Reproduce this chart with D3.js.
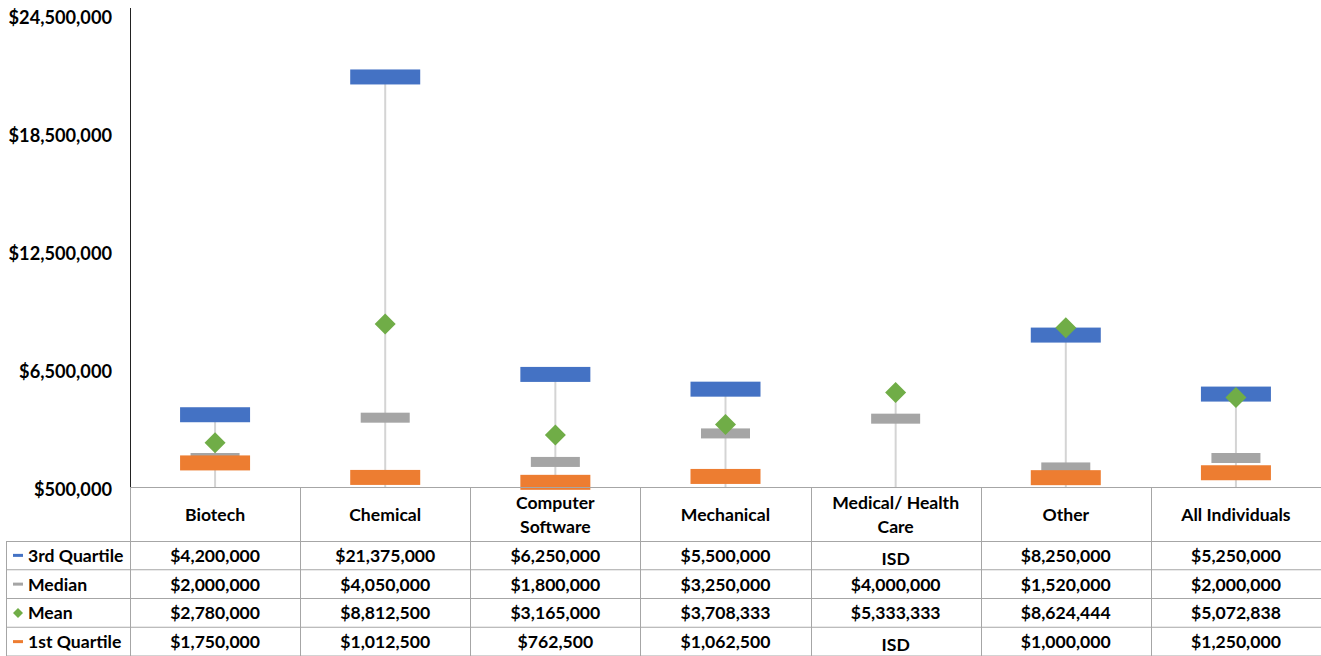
<!DOCTYPE html>
<html>
<head>
<meta charset="utf-8">
<script src="https://cdn.jsdelivr.net/npm/d3@7"></script>
<style>
  html, body { margin: 0; padding: 0; background: #fff; }
  svg text { font-family: Lato, 'Open Sans', sans-serif; font-weight: 700; fill: #000; }
</style>
</head>
<body>
<div id="app"></div>
<script>
'use strict'
// chart values
const categories = ['Biotech', 'Chemical', 'Computer Software', 'Mechanical', 'Medical/ Health Care', 'Other', 'All Individuals']
const categoryLines = [['Biotech'], ['Chemical'], ['Computer', 'Software'], ['Mechanical'], ['Medical/ Health', 'Care'], ['Other'], ['All Individuals']]
const q3 = [4200000, 21375000, 6250000, 5500000, null, 8250000, 5250000]
const median = [2000000, 4050000, 1800000, 3250000, 4000000, 1520000, 2000000]
const mean = [2780000, 8812500, 3165000, 3708333, 5333333, 8624444, 5072838]
const q1 = [1750000, 1012500, 762500, 1062500, null, 1000000, 1250000]
const yTicks = [500000, 6500000, 12500000, 18500000, 24500000]
const seriesNames = ['3rd Quartile', 'Median', 'Mean', '1st Quartile']

const W = 1321, H = 656
const plotLeft = 130, plotRight = 1321, plotTop = 15.5, plotBottom = 487.5
const tableLine = '#a6a6a6'
const colors = { q3: '#4472C4', median: '#A5A5A5', mean: '#70AD47', q1: '#ED7D31' }
const fmt = d3.format('$,')
const fs = '17.6px'

const svg = d3.select('#app').append('svg')
  .attr('width', W)
  .attr('height', H)

const x = d3.scaleBand().domain(categories).range([plotLeft, plotRight]).padding(0)
const y = d3.scaleLinear().domain([500000, 24500000]).range([plotBottom, plotTop])
const cx = i => x(categories[i]) + x.bandwidth() / 2

// y axis labels
svg.append('g').selectAll('text')
  .data(yTicks)
  .enter().append('text')
  .attr('x', 112)
  .attr('y', d => y(d) + 1.5)
  .attr('text-anchor', 'end')
  .attr('dominant-baseline', 'central')
  .style('font-size', '18.2px')
  .text(d => fmt(d))

// drop lines, from highest point down to axis
svg.append('g').selectAll('line')
  .data(categories)
  .enter().append('line')
  .attr('x1', (d, i) => cx(i))
  .attr('x2', (d, i) => cx(i))
  .attr('y1', (d, i) => y(d3.max([q3[i], median[i], mean[i], q1[i]])))
  .attr('y2', plotBottom)
  .style('stroke', '#d4d4d4')
  .style('stroke-width', 2)

// axis line
svg.append('line')
  .attr('x1', plotLeft + 0.5).attr('x2', plotLeft + 0.5).attr('y1', 8).attr('y2', plotBottom)
  .style('stroke', '#222').style('stroke-width', 1)

const drawBars = (vals, color, w, h) => {
  svg.append('g').selectAll('rect')
    .data(vals.map((v, i) => ({ v, i })).filter(d => d.v != null))
    .enter().append('rect')
    .attr('x', d => cx(d.i) - w / 2)
    .attr('y', d => y(d.v) - h / 2)
    .attr('width', w)
    .attr('height', h)
    .style('fill', color)
}

drawBars(q3, colors.q3, 70, 15)
drawBars(median, colors.median, 49, 10)

svg.append('g').selectAll('path')
  .data(mean)
  .enter().append('path')
  .attr('d', 'M0,-10.5L10.5,0L0,10.5L-10.5,0Z')
  .attr('transform', (d, i) => `translate(${cx(i)},${y(d)})`)
  .style('fill', colors.mean)

drawBars(q1, colors.q1, 70, 15)

// data table
const headerBottom = 541
const rowH = 28.75
const table = svg.append('g')

table.append('line')
  .attr('x1', plotLeft).attr('x2', plotRight).attr('y1', 487.5).attr('y2', 487.5)
  .style('stroke', tableLine)
table.append('line')
  .attr('x1', 6).attr('x2', plotRight).attr('y1', headerBottom + 0.5).attr('y2', headerBottom + 0.5)
  .style('stroke', tableLine)
for (let r = 1; r <= 4; r++) {
  table.append('line')
    .attr('x1', 6).attr('x2', plotRight)
    .attr('y1', headerBottom + r * rowH).attr('y2', headerBottom + r * rowH)
    .style('stroke', tableLine)
}
table.append('line')
  .attr('x1', 6.5).attr('x2', 6.5).attr('y1', headerBottom).attr('y2', H)
  .style('stroke', tableLine)
table.selectAll('line.col')
  .data(categories.concat(['end']))
  .enter().append('line')
  .attr('class', 'col')
  .attr('x1', (d, i) => Math.round(plotLeft + i * x.bandwidth()) + 0.5)
  .attr('x2', (d, i) => Math.round(plotLeft + i * x.bandwidth()) + 0.5)
  .attr('y1', 487)
  .attr('y2', H)
  .style('stroke', tableLine)

// header labels
categoryLines.forEach((lines, i) => {
  const t = table.append('text')
    .attr('x', cx(i))
    .attr('text-anchor', 'middle')
    .style('font-size', fs)
  lines.forEach((ln, k) => {
    t.append('tspan')
      .attr('x', cx(i))
      .attr('y', 514.5 + (k - (lines.length - 1) / 2) * 23.5)
      .attr('dominant-baseline', 'central')
      .text(ln)
  })
})

// rows
const rows = [q3, median, mean, q1]
const rowColors = [colors.q3, colors.median, colors.mean, colors.q1]
rows.forEach((vals, r) => {
  const ry = headerBottom + r * rowH + rowH / 2
  if (r === 2) {
    table.append('path')
      .attr('d', 'M0,-5L5,0L0,5L-5,0Z')
      .attr('transform', `translate(18,${ry})`)
      .style('fill', rowColors[r])
  } else {
    table.append('rect')
      .attr('x', 13).attr('y', ry - 1.5).attr('width', 10).attr('height', 3)
      .style('fill', rowColors[r])
  }
  table.append('text')
    .attr('x', 28)
    .attr('y', ry)
    .attr('dominant-baseline', 'central')
    .style('font-size', fs)
    .text(seriesNames[r])
  table.append('g').selectAll('text')
    .data(vals)
    .enter().append('text')
    .attr('x', (d, i) => cx(i))
    .attr('y', d => d == null ? ry + 3 : ry)
    .attr('text-anchor', 'middle')
    .attr('dominant-baseline', 'central')
    .style('font-size', fs)
    .text(d => d == null ? 'ISD' : fmt(d))
})
</script>
</body>
</html>
